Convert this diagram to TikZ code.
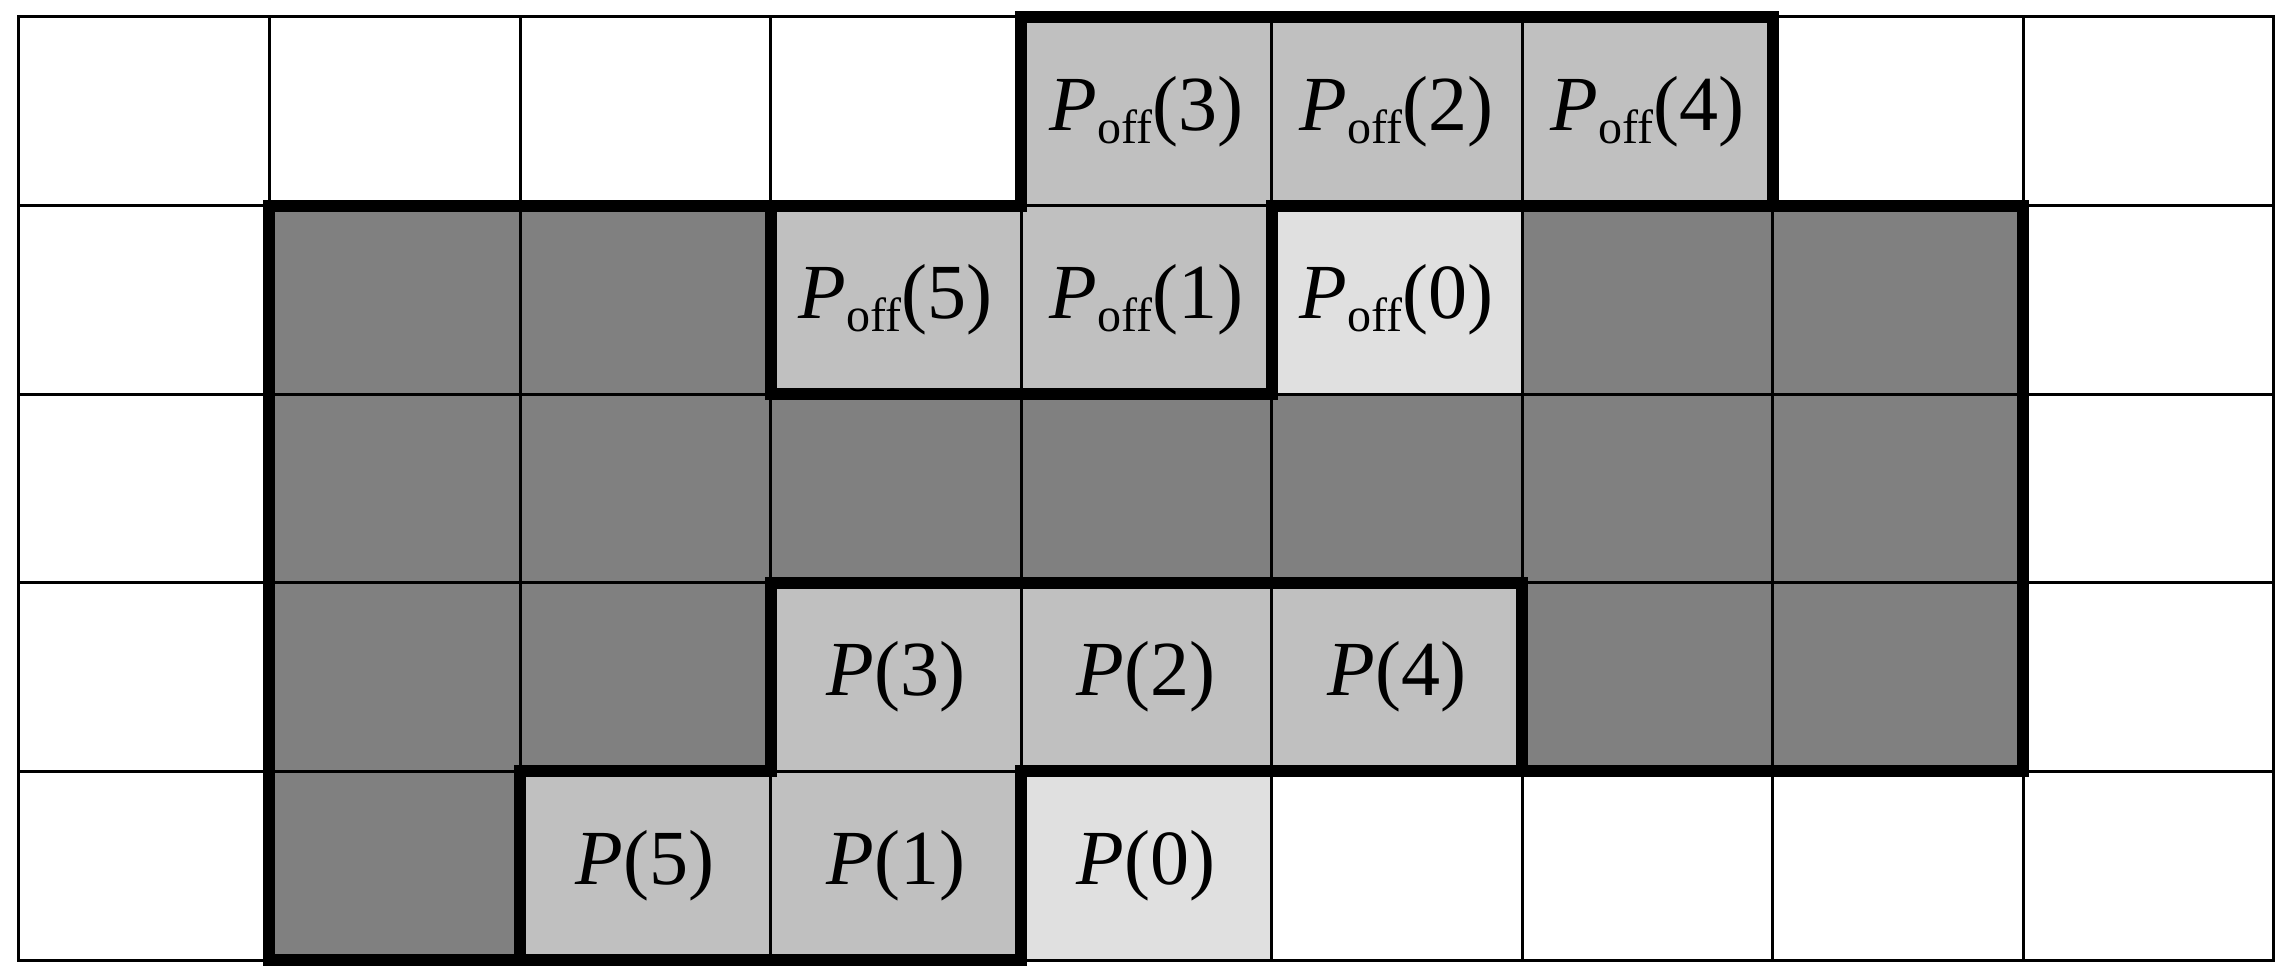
\documentclass[tikz,border=0pt]{standalone}
\usepackage{fontspec}
\setmainfont{Liberation Serif}
\definecolor{dk}{HTML}{808080}
\definecolor{lt}{HTML}{C0C0C0}
\definecolor{vl}{HTML}{E0E0E0}
\newcommand{\Poff}[1]{\textit{P}\raisebox{-3.3pt}{\fontsize{12}{12}\selectfont off}(#1)}
\newcommand{\Pn}[1]{\textit{P}(#1)}
\begin{document}
\begin{tikzpicture}[x=62.625pt,y=-47.15pt,
  cell/.style={draw=black,line width=0.75pt,minimum width=62.625pt,minimum height=47.15pt,
    inner sep=0pt,outer sep=0pt,font=\fontsize{19.5}{20}\selectfont},
  thickborder/.style={line width=3pt,line join=miter,line cap=rect}]
\fill[white] (-0.0758,-0.0901) rectangle (9.0579,5.1007);
\useasboundingbox (-0.0758,-0.0901) rectangle (9.0579,5.1007);
\foreach \i/\j/\c/\t in {
  0/0/white/{},1/0/white/{},2/0/white/{},3/0/white/{},4/0/lt/{\Poff{3}},5/0/lt/{\Poff{2}},6/0/lt/{\Poff{4}},7/0/white/{},8/0/white/{},
  0/1/white/{},1/1/dk/{},2/1/dk/{},3/1/lt/{\Poff{5}},4/1/lt/{\Poff{1}},5/1/vl/{\Poff{0}},6/1/dk/{},7/1/dk/{},8/1/white/{},
  0/2/white/{},1/2/dk/{},2/2/dk/{},3/2/dk/{},4/2/dk/{},5/2/dk/{},6/2/dk/{},7/2/dk/{},8/2/white/{},
  0/3/white/{},1/3/dk/{},2/3/dk/{},3/3/lt/{\Pn{3}},4/3/lt/{\Pn{2}},5/3/lt/{\Pn{4}},6/3/dk/{},7/3/dk/{},8/3/white/{},
  0/4/white/{},1/4/dk/{},2/4/lt/{\Pn{5}},3/4/lt/{\Pn{1}},4/4/vl/{\Pn{0}},5/4/white/{},6/4/white/{},7/4/white/{},8/4/white/{}}
{
  \node[cell,fill=\c] (c-\i-\j) at (\i+0.5,\j+0.5) {\t};
}
\draw[thickborder] (c-3-1.north west) -- (c-3-1.south west) -- (c-4-1.south east) -- (c-5-1.north west)
  -- (c-7-1.north east) -- (c-7-3.south east) -- (c-4-3.south west) -- (c-4-4.south west)
  -- (c-1-4.south west) -- (c-1-1.north west) -- (c-3-1.north east) -- (c-4-0.north west)
  -- (c-6-0.north east) -- (c-6-0.south east);
\draw[thickborder] (c-2-4.south west) -- (c-2-4.north west) -- (c-3-3.south west) -- (c-3-3.north west)
  -- (c-5-3.north east) -- (c-5-3.south east);
\end{tikzpicture}
\end{document}
